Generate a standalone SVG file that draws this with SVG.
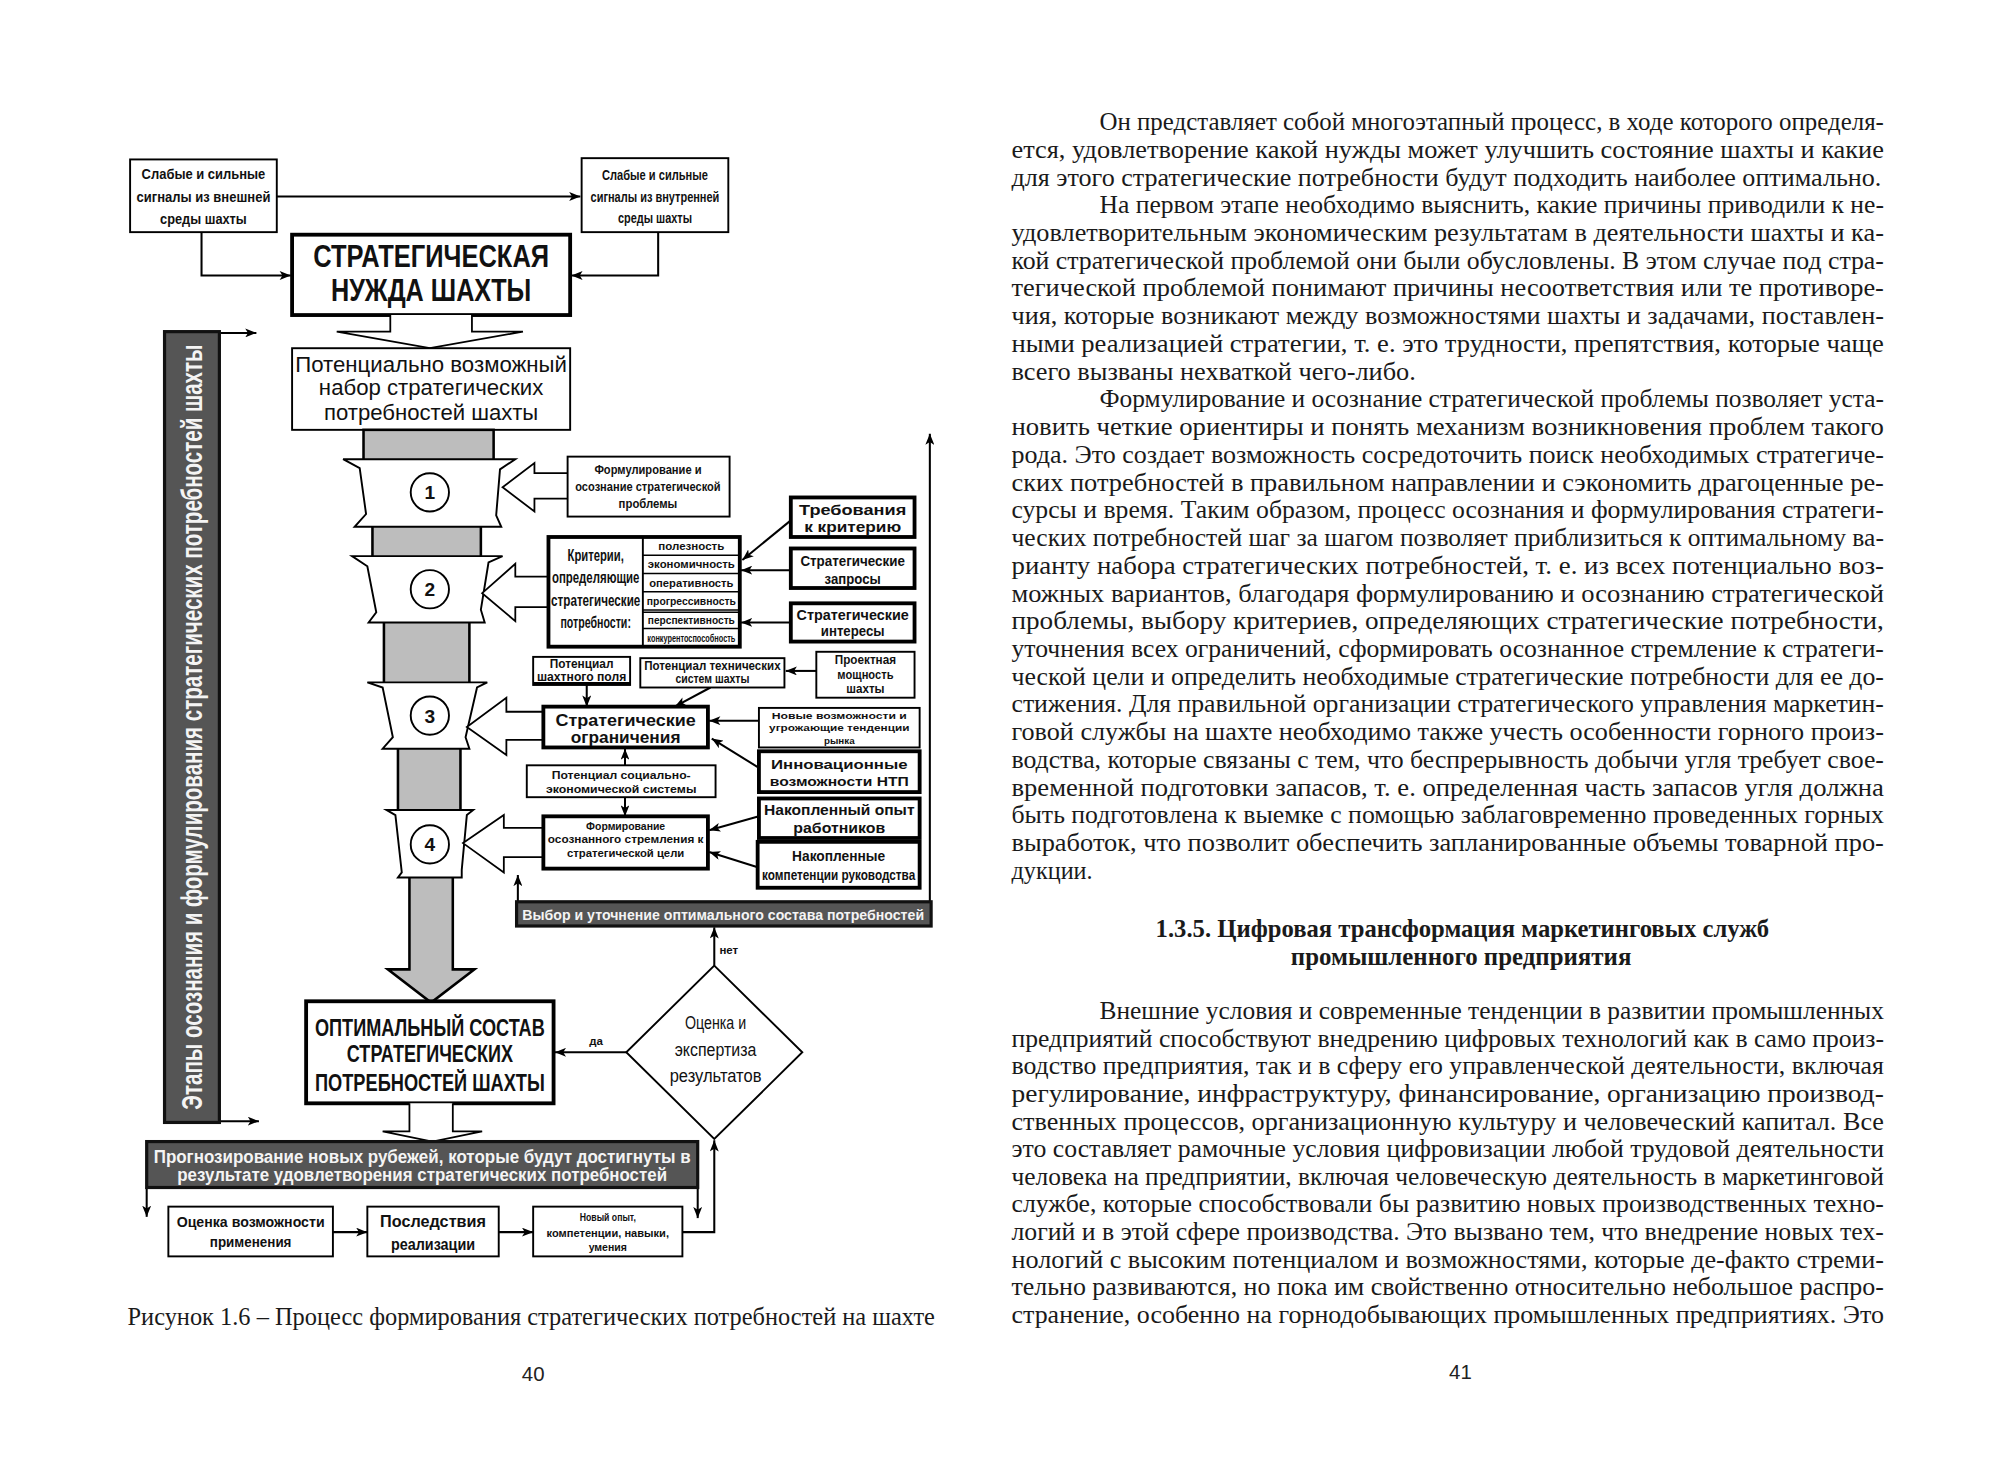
<svg xmlns="http://www.w3.org/2000/svg" width="2000" height="1464" viewBox="0 0 2000 1464">
<defs>
<style>
.bx{fill:#fff;stroke:#000;stroke-width:1.5}
.bk{fill:#fff;stroke:#000;stroke-width:3}
.seg{fill:#bdbdbd;stroke:#000;stroke-width:2}
.dark{fill:#555;stroke:#111;stroke-width:2.5}
.stg{fill:#fff;stroke:#000;stroke-width:1.5}
.ha{fill:#fff;stroke:#000;stroke-width:1.4}
.ln{fill:none;stroke:#000;stroke-width:1.6}
.t{font-family:"Liberation Sans",Arial,sans-serif;font-weight:bold;text-anchor:middle;fill:#111}
.tn{font-family:"Liberation Sans",Arial,sans-serif;font-weight:normal;text-anchor:middle;fill:#111}
.w{fill:#f4f4f4}
.body{font-family:"Liberation Serif","Times New Roman",serif;font-size:19px;fill:#1a1a1a}
.hd{font-family:"Liberation Serif","Times New Roman",serif;font-size:19px;font-weight:bold;text-anchor:middle;fill:#1a1a1a}
.pn{font-family:"Liberation Sans",Arial,sans-serif;font-size:16px;text-anchor:middle;fill:#222}
</style>
<marker id="a" viewBox="0 0 10 8" refX="10" refY="4" markerWidth="9" markerHeight="7" orient="auto" markerUnits="userSpaceOnUse"><path d="M0,0 L10,4 L0,8 L2.5,4 Z" fill="#000"/></marker>
</defs>
<rect width="2000" height="1464" fill="#fff"/>
<g transform="scale(1.27551)">

<!-- connectors -->
<g id="connectors" class="ln" marker-end="url(#a)">
<path d="M217,154 H455"/>
<path d="M158,182 V216 H228"/>
<path d="M516,182 V216 H448"/>
<path d="M172,261 H201"/>
<path d="M172,879 H203"/>
<path d="M620,408 L582,439"/>
<path d="M620,447 H581"/>
<path d="M620,488 H581"/>
<path d="M640,526 H616"/>
<path d="M460,537 V554"/>
<path d="M557,539 L529,554"/>
<path d="M595,565 H556"/>
<path d="M595,602 L558,579"/>
<path d="M490,600 V587"/>
<path d="M490,625 V640"/>
<path d="M595,640 L556,651"/>
<path d="M594,680 L556,668"/>
<path d="M729,707 V340"/>
<path d="M406,707 V686"/>
<path d="M560,757 V727"/>
<path d="M492,825 H435"/>
<path d="M115,931 V954"/>
<path d="M547,931 V955"/>
<path d="M261,966 H288"/>
<path d="M391,966 H418"/>
<path d="M535,966 H560 V894"/>
</g>

<!-- top signal boxes -->
<g id="ext-signals">
<rect class="bx" x="102" y="125" width="115" height="57"/>
<text class="t" font-size="12" x="159.5" y="140" textLength="97" lengthAdjust="spacingAndGlyphs">Слабые и сильные</text>
<text class="t" font-size="12" x="159.5" y="158" textLength="105" lengthAdjust="spacingAndGlyphs">сигналы из внешней</text>
<text class="t" font-size="12" x="159.5" y="176" textLength="68" lengthAdjust="spacingAndGlyphs">среды шахты</text>
</g>
<g id="int-signals">
<rect class="bx" x="456" y="124" width="115" height="58"/>
<text class="t" font-size="11" x="513.5" y="141" textLength="83" lengthAdjust="spacingAndGlyphs">Слабые и сильные</text>
<text class="t" font-size="11" x="513.5" y="158" textLength="101" lengthAdjust="spacingAndGlyphs">сигналы из внутренней</text>
<text class="t" font-size="11" x="513.5" y="175" textLength="58" lengthAdjust="spacingAndGlyphs">среды шахты</text>
</g>
<g id="need">
<rect class="bk" x="229" y="184" width="218" height="63"/>
<text class="t" font-size="25" x="338" y="209" textLength="185" lengthAdjust="spacingAndGlyphs">СТРАТЕГИЧЕСКАЯ</text>
<text class="t" font-size="25" x="338" y="236" textLength="157" lengthAdjust="spacingAndGlyphs">НУЖДА ШАХТЫ</text>
</g>
<path class="ha" d="M306,247 V260 H264 L337,273 L410,260 H370 V247"/>
<g id="potential-set">
<rect class="bx" x="229" y="273" width="218" height="64"/>
<text class="tn" font-size="17" x="338" y="292" textLength="213" lengthAdjust="spacingAndGlyphs">Потенциально возможный</text>
<text class="tn" font-size="17" x="338" y="310" textLength="176" lengthAdjust="spacingAndGlyphs">набор стратегических</text>
<text class="tn" font-size="17" x="338" y="329" textLength="168" lengthAdjust="spacingAndGlyphs">потребностей шахты</text>
</g>

<!-- left vertical bar -->
<g id="stages-bar">
<rect class="dark" x="129" y="260" width="43" height="620"/>
<text class="t w" font-size="23" font-weight="normal" transform="translate(158,570) rotate(-90)" x="0" y="0" textLength="600" lengthAdjust="spacingAndGlyphs">Этапы осознания и формулирования стратегических потребностей шахты</text>
</g>

<!-- column -->
<g id="column">
<rect class="seg" x="285" y="337" width="102" height="24"/>
<rect class="seg" x="292" y="412" width="85" height="25"/>
<rect class="seg" x="301" y="487" width="67" height="49"/>
<rect class="seg" x="312" y="586" width="49" height="50"/>
<path class="seg" d="M321,687 V760 H304 L338,786 L372,760 H355 V687 Z"/>
</g>
<g id="stage1">
<path class="stg" d="M269,360 H404 L392,368 L389,404 L393,413 H278 L287,403 L282,367 Z"/>
<circle class="stg" cx="337" cy="386" r="15"/>
<text class="t" font-size="15" x="337" y="391.5">1</text>
</g>
<g id="stage2">
<path class="stg" d="M276,436 H394 L383,441 L377,478 L380,488 H289 L295,480 L288,444 Z"/>
<circle class="stg" cx="337" cy="462" r="15"/>
<text class="t" font-size="15" x="337" y="467.5">2</text>
</g>
<g id="stage3">
<path class="stg" d="M288,535 H382 L374,539 L365,578 L368,587 H300 L308,578 L300,539 Z"/>
<circle class="stg" cx="337" cy="561" r="15"/>
<text class="t" font-size="15" x="337" y="566.5">3</text>
</g>
<g id="stage4">
<path class="stg" d="M303,635 H371 L366,639 L362,682 L362,688 H312 L315,684 L310,639 Z"/>
<circle class="stg" cx="337" cy="662" r="15"/>
<text class="t" font-size="15" x="337" y="667.5">4</text>
</g>

<!-- hollow stage arrows -->
<path class="ha" d="M445,371 H419 V363 L394,382 L419,401 V391 H445"/>
<path class="ha" d="M430,452 H404 V442 L378,465 L404,487 V476 H430"/>
<path class="ha" d="M426,558 H397 V547 L366,570 L397,592 V580 H426"/>
<path class="ha" d="M426,649 H395 V639 L363,661 L395,684 V672 H426"/>

<g id="problem">
<rect class="bx" x="445" y="358" width="127" height="47"/>
<text class="t" font-size="9.5" x="508" y="372" textLength="84" lengthAdjust="spacingAndGlyphs">Формулирование и</text>
<text class="t" font-size="9.5" x="508" y="385" textLength="114" lengthAdjust="spacingAndGlyphs">осознание стратегической</text>
<text class="t" font-size="9.5" x="508" y="398" textLength="46" lengthAdjust="spacingAndGlyphs">проблемы</text>
</g>
<g id="criteria">
<rect class="bk" x="430" y="421" width="150" height="86" stroke-width="2"/>
<line x1="504" y1="421" x2="504" y2="507" stroke="#000" stroke-width="1.5"/>
<path d="M504,435.3 H580 M504,449.7 H580 M504,464 H580 M504,478.3 H580 M504,480 H580 M504,492.7 H580" stroke="#000" stroke-width="1.2"/>
<text class="t" font-size="13" font-weight="normal" transform="translate(467,440) scale(0.7,1)" textLength="63" lengthAdjust="spacingAndGlyphs">Критерии,</text>
<text class="t" font-size="13" font-weight="normal" transform="translate(467,457) scale(0.7,1)" textLength="98" lengthAdjust="spacingAndGlyphs">определяющие</text>
<text class="t" font-size="13" font-weight="normal" transform="translate(467,475) scale(0.7,1)" textLength="100" lengthAdjust="spacingAndGlyphs">стратегические</text>
<text class="t" font-size="13" font-weight="normal" transform="translate(467,492) scale(0.7,1)" textLength="79" lengthAdjust="spacingAndGlyphs">потребности:</text>
<text class="t" font-size="8" transform="translate(542,431) scale(0.75,1)" textLength="69" lengthAdjust="spacingAndGlyphs">полезность</text>
<text class="t" font-size="8" transform="translate(542,445.5) scale(0.75,1)" textLength="91" lengthAdjust="spacingAndGlyphs">экономичность</text>
<text class="t" font-size="8" transform="translate(542,460) scale(0.75,1)" textLength="88" lengthAdjust="spacingAndGlyphs">оперативность</text>
<text class="t" font-size="8" transform="translate(542,474.5) scale(0.75,1)" textLength="93" lengthAdjust="spacingAndGlyphs">прогрессивность</text>
<text class="t" font-size="8" transform="translate(542,489) scale(0.75,1)" textLength="91" lengthAdjust="spacingAndGlyphs">перспективность</text>
<text class="t" font-size="8" transform="translate(542,503) scale(0.75,1)" textLength="92" lengthAdjust="spacingAndGlyphs">конкурентоспособность</text>
</g>
<g id="req">
<rect class="bk" x="620" y="390" width="97" height="31" stroke-width="2.2"/>
<text class="t" font-size="12" x="668.5" y="404" textLength="84" lengthAdjust="spacingAndGlyphs">Требования</text>
<text class="t" font-size="12" x="668.5" y="417" textLength="76" lengthAdjust="spacingAndGlyphs">к критерию</text>
</g>
<g id="requests">
<rect class="bk" x="620" y="430" width="97" height="31" stroke-width="2.2"/>
<text class="t" font-size="11" x="668.5" y="444" textLength="82" lengthAdjust="spacingAndGlyphs">Стратегические</text>
<text class="t" font-size="11" x="668.5" y="458" textLength="44" lengthAdjust="spacingAndGlyphs">запросы</text>
</g>
<g id="interests">
<rect class="bk" x="620" y="473" width="97" height="30" stroke-width="2.2"/>
<text class="t" font-size="11" x="668.5" y="486" textLength="88" lengthAdjust="spacingAndGlyphs">Стратегические</text>
<text class="t" font-size="11" x="668.5" y="499" textLength="50" lengthAdjust="spacingAndGlyphs">интересы</text>
</g>
<g id="field">
<rect class="bx" x="418" y="515" width="76" height="22"/>
<line x1="418" y1="536" x2="494" y2="536" stroke="#000" stroke-width="2.5"/>
<text class="t" font-size="9.5" x="456" y="524" textLength="50" lengthAdjust="spacingAndGlyphs">Потенциал</text>
<text class="t" font-size="9.5" x="456" y="534" textLength="70" lengthAdjust="spacingAndGlyphs">шахтного поля</text>
</g>
<g id="tech">
<rect class="bx" x="502" y="516" width="113" height="23"/>
<text class="t" font-size="9.5" x="558.5" y="525" textLength="107" lengthAdjust="spacingAndGlyphs">Потенциал технических</text>
<text class="t" font-size="9.5" x="558.5" y="535.5" textLength="58" lengthAdjust="spacingAndGlyphs">систем шахты</text>
</g>
<g id="capacity">
<rect class="bx" x="640" y="511" width="77" height="36"/>
<text class="t" font-size="9.5" x="678.5" y="520.5" textLength="48" lengthAdjust="spacingAndGlyphs">Проектная</text>
<text class="t" font-size="9.5" x="678.5" y="532" textLength="44" lengthAdjust="spacingAndGlyphs">мощность</text>
<text class="t" font-size="9.5" x="678.5" y="543.5" textLength="30" lengthAdjust="spacingAndGlyphs">шахты</text>
</g>
<g id="limits">
<rect class="bk" x="426" y="554" width="129" height="32" stroke-width="2.4"/>
<text class="t" font-size="12.5" x="490.5" y="569.5" textLength="110" lengthAdjust="spacingAndGlyphs">Стратегические</text>
<text class="t" font-size="12.5" x="490.5" y="582.5" textLength="86" lengthAdjust="spacingAndGlyphs">ограничения</text>
</g>
<g id="market">
<rect class="bx" x="595" y="555" width="126" height="31"/>
<text class="t" font-size="7.5" x="658" y="563.5" textLength="106" lengthAdjust="spacingAndGlyphs">Новые возможности и</text>
<text class="t" font-size="7.5" x="658" y="573" textLength="110" lengthAdjust="spacingAndGlyphs">угрожающие тенденции</text>
<text class="t" font-size="7.5" x="658" y="583" textLength="24" lengthAdjust="spacingAndGlyphs">рынка</text>
</g>
<g id="ntp">
<rect class="bk" x="595" y="589" width="126" height="32" stroke-width="2"/>
<text class="t" font-size="10" x="658" y="603" textLength="107" lengthAdjust="spacingAndGlyphs">Инновационные</text>
<text class="t" font-size="10" x="658" y="616" textLength="109" lengthAdjust="spacingAndGlyphs">возможности НТП</text>
</g>
<g id="social">
<rect class="bx" x="413" y="600" width="148" height="25"/>
<text class="t" font-size="9" x="487" y="611" textLength="109" lengthAdjust="spacingAndGlyphs">Потенциал социально-</text>
<text class="t" font-size="9" x="487" y="621.5" textLength="118" lengthAdjust="spacingAndGlyphs">экономической системы</text>
</g>
<g id="aspiration">
<rect class="bk" x="426" y="640" width="129" height="41" stroke-width="2.4"/>
<text class="t" font-size="8.5" x="490.5" y="650.5" textLength="62" lengthAdjust="spacingAndGlyphs">Формирование</text>
<text class="t" font-size="8.5" x="490.5" y="661" textLength="122" lengthAdjust="spacingAndGlyphs">осознанного стремления к</text>
<text class="t" font-size="8.5" x="490.5" y="671.5" textLength="92" lengthAdjust="spacingAndGlyphs">стратегической цели</text>
</g>
<g id="experience">
<rect class="bk" x="595" y="626" width="126" height="31" stroke-width="2"/>
<text class="t" font-size="12" x="658" y="639" textLength="118" lengthAdjust="spacingAndGlyphs">Накопленный опыт</text>
<text class="t" font-size="12" x="658" y="653" textLength="72" lengthAdjust="spacingAndGlyphs">работников</text>
</g>
<g id="competence">
<rect class="bk" x="594" y="660" width="127" height="36" stroke-width="2"/>
<text class="t" font-size="11" font-weight="normal" x="657.5" y="675" textLength="73" lengthAdjust="spacingAndGlyphs">Накопленные</text>
<text class="t" font-size="11" font-weight="normal" x="657.5" y="690" textLength="120" lengthAdjust="spacingAndGlyphs">компетенции руководства</text>
</g>
<g id="choice">
<rect class="dark" x="405" y="707" width="325" height="19"/>
<text class="t w" font-size="12" font-weight="normal" x="567" y="721" textLength="315" lengthAdjust="spacingAndGlyphs">Выбор и уточнение оптимального состава потребностей</text>
</g>
<text class="t" font-size="9" x="564" y="748" style="text-anchor:start">нет</text>
<text class="t" font-size="9" x="462" y="819" style="text-anchor:start">да</text>
<g id="evaluation">
<path class="bx" d="M560,757 L629,825 L560,893 L491,825 Z"/>
<text class="tn" font-size="15" x="561" y="807" textLength="48" lengthAdjust="spacingAndGlyphs">Оценка и</text>
<text class="tn" font-size="15" x="561" y="828" textLength="64" lengthAdjust="spacingAndGlyphs">экспертиза</text>
<text class="tn" font-size="15" x="561" y="848" textLength="72" lengthAdjust="spacingAndGlyphs">результатов</text>
</g>
<g id="optimal">
<rect class="bk" x="240" y="785" width="194" height="80"/>
<text class="t" font-size="19" transform="translate(337,812) scale(0.78,1)" textLength="231" lengthAdjust="spacingAndGlyphs">ОПТИМАЛЬНЫЙ СОСТАВ</text>
<text class="t" font-size="19" transform="translate(337,833) scale(0.78,1)" textLength="167" lengthAdjust="spacingAndGlyphs">СТРАТЕГИЧЕСКИХ</text>
<text class="t" font-size="19" transform="translate(337,855) scale(0.78,1)" textLength="231" lengthAdjust="spacingAndGlyphs">ПОТРЕБНОСТЕЙ ШАХТЫ</text>
</g>
<path class="ha" d="M321,865 V887 H300 L339,895 L378,887 H355 V865"/>
<g id="forecast">
<rect class="dark" x="115" y="895" width="432" height="36"/>
<text class="t w" font-size="14" font-weight="normal" x="331" y="912" textLength="421" lengthAdjust="spacingAndGlyphs">Прогнозирование новых рубежей, которые будут достигнуты в</text>
<text class="t w" font-size="14" font-weight="normal" x="331" y="926" textLength="384" lengthAdjust="spacingAndGlyphs">результате удовлетворения стратегических потребностей</text>
</g>
<g id="assess">
<rect class="bx" x="132" y="946" width="129" height="39"/>
<text class="t" font-size="11" x="196.5" y="962" textLength="116" lengthAdjust="spacingAndGlyphs">Оценка возможности</text>
<text class="t" font-size="11" x="196.5" y="978" textLength="64" lengthAdjust="spacingAndGlyphs">применения</text>
</g>
<g id="consequences">
<rect class="bx" x="288" y="946" width="103" height="39"/>
<text class="t" font-size="13" x="339.5" y="962" textLength="83" lengthAdjust="spacingAndGlyphs">Последствия</text>
<text class="t" font-size="13" x="339.5" y="980" textLength="66" lengthAdjust="spacingAndGlyphs">реализации</text>
</g>
<g id="newexp">
<rect class="bx" x="418" y="946" width="117" height="39"/>
<text class="t" font-size="8.5" x="476.5" y="957" textLength="44" lengthAdjust="spacingAndGlyphs">Новый опыт,</text>
<text class="t" font-size="8.5" x="476.5" y="970" textLength="96" lengthAdjust="spacingAndGlyphs">компетенции, навыки,</text>
<text class="t" font-size="8.5" x="476.5" y="981" textLength="30" lengthAdjust="spacingAndGlyphs">умения</text>
</g>

<!-- caption and page numbers -->
<text class="body" x="100" y="1039" textLength="633" lengthAdjust="spacingAndGlyphs">Рисунок 1.6 – Процесс формирования стратегических потребностей на шахте</text>
<text class="pn" x="418" y="1083">40</text>
<text class="pn" x="1145" y="1081">41</text>

<!-- right page -->
<g id="page41" class="body">
<text x="862" y="102" textLength="615" lengthAdjust="spacingAndGlyphs">Он представляет собой многоэтапный процесс, в ходе которого определя-</text>
<text x="793" y="123.7" textLength="684" lengthAdjust="spacingAndGlyphs">ется, удовлетворение какой нужды может улучшить состояние шахты и какие</text>
<text x="793" y="145.5" textLength="682" lengthAdjust="spacingAndGlyphs">для этого стратегические потребности будут подходить наиболее оптимально.</text>
<text x="862" y="167.2" textLength="615" lengthAdjust="spacingAndGlyphs">На первом этапе необходимо выяснить, какие причины приводили к не-</text>
<text x="793" y="189" textLength="684" lengthAdjust="spacingAndGlyphs">удовлетворительным экономическим результатам в деятельности шахты и ка-</text>
<text x="793" y="210.7" textLength="684" lengthAdjust="spacingAndGlyphs">кой стратегической проблемой они были обусловлены. В этом случае под стра-</text>
<text x="793" y="232.4" textLength="684" lengthAdjust="spacingAndGlyphs">тегической проблемой понимают причины несоответствия или те противоре-</text>
<text x="793" y="254.2" textLength="684" lengthAdjust="spacingAndGlyphs">чия, которые возникают между возможностями шахты и задачами, поставлен-</text>
<text x="793" y="275.9" textLength="684" lengthAdjust="spacingAndGlyphs">ными реализацией стратегии, т. е. это трудности, препятствия, которые чаще</text>
<text x="793" y="297.7" textLength="317" lengthAdjust="spacingAndGlyphs">всего вызваны нехваткой чего-либо.</text>
<text x="862" y="319.4" textLength="615" lengthAdjust="spacingAndGlyphs">Формулирование и осознание стратегической проблемы позволяет уста-</text>
<text x="793" y="341.1" textLength="684" lengthAdjust="spacingAndGlyphs">новить четкие ориентиры и понять механизм возникновения проблем такого</text>
<text x="793" y="362.9" textLength="684" lengthAdjust="spacingAndGlyphs">рода. Это создает возможность сосредоточить поиск необходимых стратегиче-</text>
<text x="793" y="384.6" textLength="684" lengthAdjust="spacingAndGlyphs">ских потребностей в правильном направлении и сэкономить драгоценные ре-</text>
<text x="793" y="406.4" textLength="684" lengthAdjust="spacingAndGlyphs">сурсы и время. Таким образом, процесс осознания и формулирования стратеги-</text>
<text x="793" y="428.1" textLength="684" lengthAdjust="spacingAndGlyphs">ческих потребностей шаг за шагом позволяет приблизиться к оптимальному ва-</text>
<text x="793" y="449.8" textLength="684" lengthAdjust="spacingAndGlyphs">рианту набора стратегических потребностей, т. е. из всех потенциально воз-</text>
<text x="793" y="471.6" textLength="684" lengthAdjust="spacingAndGlyphs">можных вариантов, благодаря формулированию и осознанию стратегической</text>
<text x="793" y="493.3" textLength="684" lengthAdjust="spacingAndGlyphs">проблемы, выбору критериев, определяющих стратегические потребности,</text>
<text x="793" y="515.1" textLength="684" lengthAdjust="spacingAndGlyphs">уточнения всех ограничений, сформировать осознанное стремление к стратеги-</text>
<text x="793" y="536.8" textLength="684" lengthAdjust="spacingAndGlyphs">ческой цели и определить необходимые стратегические потребности для ее до-</text>
<text x="793" y="558.5" textLength="684" lengthAdjust="spacingAndGlyphs">стижения. Для правильной организации стратегического управления маркетин-</text>
<text x="793" y="580.3" textLength="684" lengthAdjust="spacingAndGlyphs">говой службы на шахте необходимо также учесть особенности горного произ-</text>
<text x="793" y="602" textLength="684" lengthAdjust="spacingAndGlyphs">водства, которые связаны с тем, что беспрерывность добычи угля требует свое-</text>
<text x="793" y="623.8" textLength="684" lengthAdjust="spacingAndGlyphs">временной подготовки запасов, т. е. определенная часть запасов угля должна</text>
<text x="793" y="645.5" textLength="684" lengthAdjust="spacingAndGlyphs">быть подготовлена к выемке с помощью заблаговременно проведенных горных</text>
<text x="793" y="667.2" textLength="684" lengthAdjust="spacingAndGlyphs">выработок, что позволит обеспечить запланированные объемы товарной про-</text>
<text x="793" y="689">дукции.</text>
<text class="hd" x="1146.5" y="735" textLength="481" lengthAdjust="spacingAndGlyphs">1.3.5. Цифровая трансформация маркетинговых служб</text>
<text class="hd" x="1145.5" y="756.5" textLength="267" lengthAdjust="spacingAndGlyphs">промышленного предприятия</text>
<text x="862" y="799" textLength="615" lengthAdjust="spacingAndGlyphs">Внешние условия и современные тенденции в развитии промышленных</text>
<text x="793" y="820.6" textLength="684" lengthAdjust="spacingAndGlyphs">предприятий способствуют внедрению цифровых технологий как в само произ-</text>
<text x="793" y="842.3" textLength="684" lengthAdjust="spacingAndGlyphs">водство предприятия, так и в сферу его управленческой деятельности, включая</text>
<text x="793" y="863.9" textLength="684" lengthAdjust="spacingAndGlyphs">регулирование, инфраструктуру, финансирование, организацию производ-</text>
<text x="793" y="885.6" textLength="684" lengthAdjust="spacingAndGlyphs">ственных процессов, организационную культуру и человеческий капитал. Все</text>
<text x="793" y="907.2" textLength="684" lengthAdjust="spacingAndGlyphs">это составляет рамочные условия цифровизации любой трудовой деятельности</text>
<text x="793" y="928.8" textLength="684" lengthAdjust="spacingAndGlyphs">человека на предприятии, включая человеческую деятельность в маркетинговой</text>
<text x="793" y="950.5" textLength="684" lengthAdjust="spacingAndGlyphs">службе, которые способствовали бы развитию новых производственных техно-</text>
<text x="793" y="972.1" textLength="684" lengthAdjust="spacingAndGlyphs">логий и в этой сфере производства. Это вызвано тем, что внедрение новых тех-</text>
<text x="793" y="993.8" textLength="684" lengthAdjust="spacingAndGlyphs">нологий с высоким потенциалом и возможностями, которые де-факто стреми-</text>
<text x="793" y="1015.4" textLength="684" lengthAdjust="spacingAndGlyphs">тельно развиваются, но пока им свойственно относительно небольшое распро-</text>
<text x="793" y="1037" textLength="684" lengthAdjust="spacingAndGlyphs">странение, особенно на горнодобывающих промышленных предприятиях. Это</text>
</g>
</g>
</svg>
